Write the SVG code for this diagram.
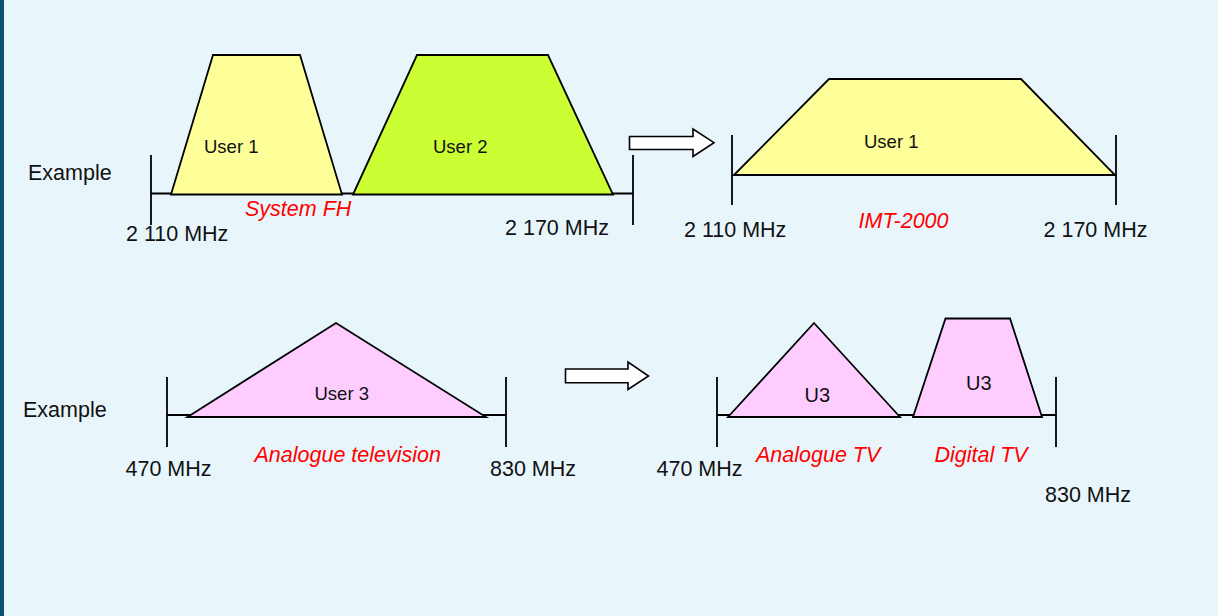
<svg xmlns="http://www.w3.org/2000/svg" width="1218" height="616" viewBox="0 0 1218 616">
<style>
.ln{stroke:#000;stroke-width:1.8;fill:none}
.sh{stroke:#000;stroke-width:1.8;stroke-linejoin:miter}
.t{font-family:"Liberation Sans",Arial,sans-serif;font-size:21.5px;fill:#111}
.u{font-family:"Liberation Sans",Arial,sans-serif;font-size:18.5px;fill:#111}
.r{font-family:"Liberation Sans",Arial,sans-serif;font-size:21.5px;font-style:italic;fill:#ff0000}
.arr{fill:#fff;stroke:#000;stroke-width:1.6}
</style>
<rect width="1218" height="616" fill="#e8f6fc"/>
<rect x="0" y="0" width="4" height="616" fill="#0b5173"/>

<g id="connectors">
  <line class="ln" x1="151" y1="193.5" x2="633" y2="193.5"/>
  <line class="ln" x1="151" y1="155" x2="151" y2="225"/>
  <line class="ln" x1="633" y1="155" x2="633" y2="225"/>
  <line class="ln" x1="732" y1="135" x2="732" y2="205"/>
  <line class="ln" x1="1116" y1="135" x2="1116" y2="205"/>
  <line class="ln" x1="167" y1="415" x2="506" y2="415"/>
  <line class="ln" x1="167" y1="377" x2="167" y2="447"/>
  <line class="ln" x1="506" y1="377" x2="506" y2="447"/>
  <line class="ln" x1="717" y1="415" x2="1056" y2="415"/>
  <line class="ln" x1="717" y1="377" x2="717" y2="447"/>
  <line class="ln" x1="1056" y1="377" x2="1056" y2="447"/>
  <path class="arr" d="M629.5,136.5 H693 V129 L714,142.7 L693,156.5 V149.5 H629.5 Z"/>
  <path class="arr" d="M565.5,369 H628 V362 L648.5,376 L628,389.5 V382.7 H565.5 Z"/>
</g>

<g id="user1-fh">
  <polygon class="sh" fill="#ffff99" points="171,194.5 213,55 300,55 342,194.5"/>
  <text class="u" x="204" y="153">User 1</text>
</g>
<g id="user2-fh">
  <polygon class="sh" fill="#ccff33" points="353,194.5 417,55 548,55 613,194.5"/>
  <text class="u" x="433" y="153">User 2</text>
</g>
<g id="user1-imt">
  <polygon class="sh" fill="#ffff99" points="734,175 829,79 1021,79 1115,175"/>
  <text class="u" x="864" y="148">User 1</text>
</g>
<g id="user3-atv">
  <polygon class="sh" fill="#ffccff" points="187.5,417 336,323 486,417"/>
  <text class="u" x="314.5" y="400">User 3</text>
</g>
<g id="u3-analogue">
  <polygon class="sh" fill="#ffccff" points="728,417 814,323 900,417"/>
  <text class="t" x="804.5" y="402" style="font-size:20px">U3</text>
</g>
<g id="u3-digital">
  <polygon class="sh" fill="#ffccff" points="913,417 945.5,318.5 1010,318.5 1042,417"/>
  <text class="t" x="966" y="390" style="font-size:20px">U3</text>
</g>

<g id="labels">
  <text class="t" x="28" y="180">Example</text>
  <text class="t" x="126" y="241">2 110 MHz</text>
  <text class="t" x="505" y="235">2 170 MHz</text>
  <text class="r" x="245" y="215.5">System FH</text>
  <text class="t" x="684" y="237">2 110 MHz</text>
  <text class="t" x="1043.5" y="237">2 170 MHz</text>
  <text class="r" x="858.5" y="228">IMT-2000</text>
  <text class="t" x="23" y="417">Example</text>
  <text class="t" x="125.5" y="476">470 MHz</text>
  <text class="t" x="490" y="476">830 MHz</text>
  <text class="r" x="254.5" y="461.5">Analogue television</text>
  <text class="t" x="656.5" y="476">470 MHz</text>
  <text class="t" x="1045" y="502">830 MHz</text>
  <text class="r" x="756" y="461.5">Analogue TV</text>
  <text class="r" x="934.5" y="461.5">Digital TV</text>
</g>
</svg>
